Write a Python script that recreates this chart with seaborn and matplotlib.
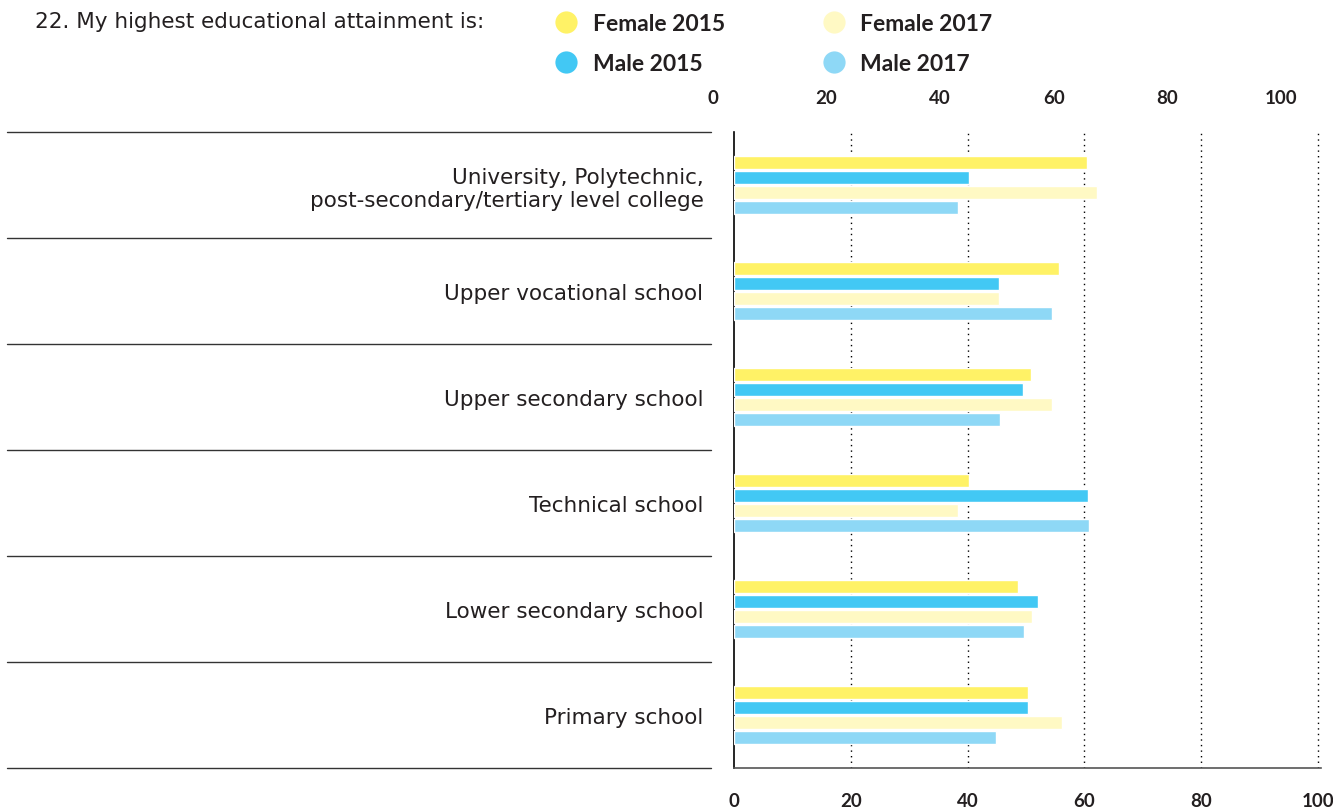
"""Highest educational attainment by gender, 2015 vs 2017."""

import pandas as pd
import matplotlib.pyplot as plt
import seaborn as sns
from matplotlib.lines import Line2D
from matplotlib.transforms import blended_transform_factory

categories = [
    "University, Polytechnic,\npost-secondary/tertiary level college",
    "Upper vocational school",
    "Upper secondary school",
    "Technical school",
    "Lower secondary school",
    "Primary school",
]
female_2015 = [60.4, 55.6, 50.8, 40.3, 48.7, 50.4]
male_2015 = [40.2, 45.3, 49.4, 60.6, 52.1, 50.4]
female_2017 = [62.2, 45.3, 54.5, 38.4, 51.1, 56.1]
male_2017 = [38.3, 54.5, 45.6, 60.8, 49.7, 44.8]
series = ["Female 2015", "Male 2015", "Female 2017", "Male 2017"]
ticks = [0, 20, 40, 60, 80, 100]

colors = {
    "Female 2015": "#FFF266",
    "Male 2015": "#42C8F4",
    "Female 2017": "#FFF9C4",
    "Male 2017": "#8ED8F6",
}
TEXT = "#231F20"
REGULAR = ["DejaVu Sans"]
BOLD = ["Lato", "DejaVu Sans"]

rows = []
for name, vals in zip(series, [female_2015, male_2015, female_2017, male_2017]):
    for cat, v in zip(categories, vals):
        rows.append({"category": cat, "series": name, "value": v})
df = pd.DataFrame(rows)

sns.set_theme(style="white")
plt.rcParams["font.family"] = BOLD

fig = plt.figure(figsize=(13.33, 8.12), dpi=100)
ax = fig.add_axes([734 / 1333, 1 - 769 / 812, 587 / 1333, 636 / 812])

sns.barplot(
    data=df, x="value", y="category", hue="series",
    order=categories, hue_order=series, palette=colors,
    orient="h", width=0.566, gap=0.067, saturation=1,
    legend=False, ax=ax, zorder=3,
)

ax.set_xticks(ticks)
ax.set_xticklabels([str(t) for t in ticks], fontsize=13.5, fontweight="bold", color=TEXT)
ax.set_xlim(0, 100.5)
ax.set_ylim(5.5, -0.5)
ax.set_xlabel("")
ax.set_ylabel("")
ax.tick_params(axis="x", length=0, pad=17)
ax.tick_params(axis="y", length=0, pad=22, labelsize=15.5, labelcolor=TEXT)
for lab in ax.get_yticklabels():
    lab.set_family(REGULAR)
    lab.set_linespacing(1.2)

for t in ticks[1:]:
    ax.axvline(t, color="black", linestyle=(0, (1, 3)), linewidth=1, zorder=1)

for s in ["top", "right"]:
    ax.spines[s].set_visible(False)
ax.spines["left"].set_color("black")
ax.spines["left"].set_linewidth(1.2)
ax.spines["bottom"].set_color("#555555")
ax.spines["bottom"].set_linewidth(1.2)

# top scale labels sit a little left of the gridlines in the original
ax_top = fig.add_axes([713 / 1333, 1 - 133 / 812, 568 / 1333, 0.001])
ax_top.set_xlim(0, 100)
ax_top.set_xticks(ticks)
ax_top.set_xticklabels([str(t) for t in ticks], fontsize=13.5, fontweight="bold", color=TEXT)
ax_top.xaxis.set_ticks_position("top")
ax_top.tick_params(axis="x", length=0, pad=18)
ax_top.set_yticks([])
ax_top.patch.set_visible(False)
for s in ax_top.spines.values():
    s.set_visible(False)

# row separators left of the plot
trans = blended_transform_factory(fig.transFigure, ax.transData)
for y in [i - 0.5 for i in range(len(categories) + 1)]:
    ax.plot([7 / 1333, 711 / 1333], [y, y], transform=trans, color="#333333",
            linewidth=1, clip_on=False)

fig.text(35 / 1333, 1 - 22 / 812, "22. My highest educational attainment is:",
         fontsize=15.5, color=TEXT, va="center", ha="left", family=REGULAR)

handles = [Line2D([0], [0], marker="o", linestyle="", markersize=16,
                  markerfacecolor=colors[s], markeredgewidth=0) for s in series]
leg = fig.legend(handles, series, ncol=2, loc="upper left",
                 bbox_to_anchor=(533 / 1333, 1 + 7 / 812), frameon=False,
                 prop={"family": BOLD, "size": 16.5, "weight": "bold"},
                 handletextpad=0.6, columnspacing=4.2, labelspacing=0.85,
                 handlelength=1.1)
for txt in leg.get_texts():
    txt.set_color(TEXT)

fig.savefig("out.png", dpi=100)
